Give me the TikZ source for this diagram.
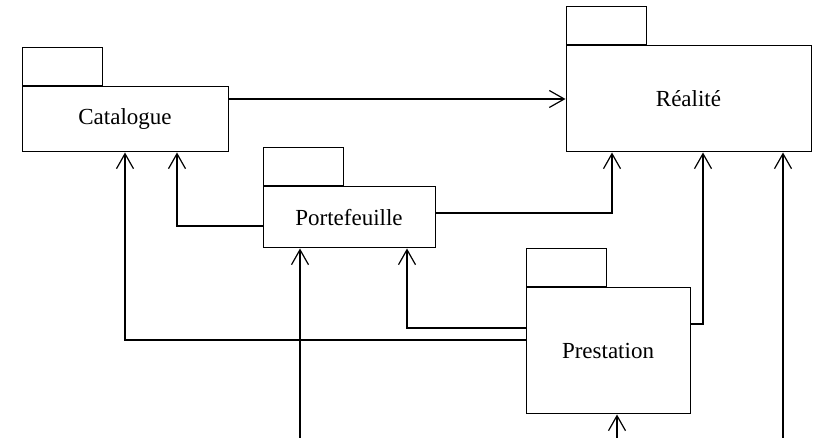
\documentclass[tikz,border=0pt]{standalone}
\usepackage{fontspec}
\setmainfont{Liberation Serif}
\usetikzlibrary{arrows.meta,positioning,calc}

\begin{document}
\begin{tikzpicture}[x=1pt,y=-1pt,line cap=butt,
  pkg/.style={draw,line width=1pt,inner sep=0pt,font=\fontsize{23}{27}\selectfont},
  tab/.style={draw,line width=1pt,inner sep=0pt,minimum width=80pt,minimum height=38pt,anchor=south west},
  dep/.style={line width=1.7pt,-{Straight Barb[length=15pt,width=17pt,line width=1.2pt]}}]
  \useasboundingbox (0,0) rectangle (820,438);
  % packages
  \node[pkg,minimum width=206pt,minimum height=65pt] (cat) at (125,119.5) {Catalogue};
  \node[pkg,minimum width=245pt,minimum height=106pt] (real) at (688.5,99) {Réalité};
  \node[pkg,minimum width=172pt,minimum height=61pt] (port) at (349,217.5) {Portefeuille};
  \node[pkg,minimum width=164pt,minimum height=126pt] (prest) at (608,351) {Prestation};
  \foreach \p in {cat,real,port,prest}{
     \node[tab] (\p-tab) at (\p.north west) {};
  }
  % free ends at the bottom
  \coordinate (in1) at (300,438);
  \coordinate (in2) at (617,438);
  \coordinate (in3) at (783,438);
  % dependencies
  \draw[dep] (cat.east |- real.west) -- (real.west);
  \draw[dep] ([yshift=-8.5pt]port.west) -| ([xshift=52pt]cat.south);
  \draw[dep] ([yshift=4.5pt]port.east) -| ([xshift=-76.5pt]real.south);
  \draw[dep] ([yshift=11pt]prest.west) -| (cat.south);
  \draw[dep] ([yshift=23pt]prest.west) -| ([xshift=58pt]port.south);
  \draw[dep] ([yshift=27pt]prest.east) -| ([xshift=14.5pt]real.south);
  \draw[dep] (in1) -- (in1 |- port.south);
  \draw[dep] (in2) -- (in2 |- prest.south);
  \draw[dep] (in3) -- (in3 |- real.south);
\end{tikzpicture}
\end{document}
